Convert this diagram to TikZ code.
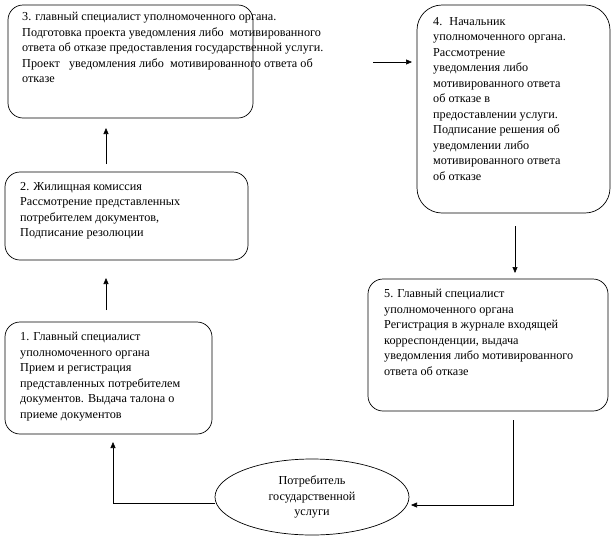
\documentclass[tikz,border=0pt]{standalone}
\usepackage{fontspec}
\setmainfont{Liberation Serif}
\usetikzlibrary{shapes.geometric,arrows.meta}
\begin{document}
\begin{tikzpicture}[x=1pt,y=-1pt,
 box/.style={draw,line width=0.7pt},
 txt/.style={anchor=north west,align=left,inner sep=0pt,font=\fontsize{12.2}{15.5}\selectfont},
 arr/.style={-{Triangle[length=6pt,width=5pt]},line width=0.6pt}]
\useasboundingbox (0,0) rectangle (612,541);
\draw[box,rounded corners=15] (8,5) rectangle (253,118);
\node[txt] (t3) at (22,12) {3. главный специалист уполномоченного органа.\\Подготовка проекта уведомления либо \ мотивированного\\ответа об отказе предоставления государственной услуги.\\Проект \ \ уведомления либо \ мотивированного ответа об\\отказе};
\draw[box,rounded corners=25] (417,5) rectangle (610,213);
\node[txt] (t4) at (433,17) {4. \ Начальник\\уполномоченного органа.\\Рассмотрение\\уведомления либо\\мотивированного ответа\\об отказе в\\предоставлении услуги.\\Подписание решения об\\уведомлении либо\\мотивированного ответа\\об отказе};
\draw[box,rounded corners=15] (5,172) rectangle (248,260);
\node[txt] (t2) at (20,182) {2. Жилищная комиссия\\Рассмотрение представленных\\потребителем документов,\\ Подписание резолюции};
\draw[box,rounded corners=15] (5,322) rectangle (212,434);
\node[txt] (t1) at (20,332) {1. Главный специалист\\уполномоченного органа\\Прием и регистрация\\представленных потребителем\\документов. Выдача талона о\\приеме документов};
\draw[box,rounded corners=15] (368,279) rectangle (608,411);
\node[txt] (t5) at (384,289) {5. Главный специалист\\уполномоченного органа\\Регистрация в журнале входящей\\корреспонденции, выдача\\уведомления либо мотивированного\\ответа об отказе};
\node[draw,line width=0.7pt,ellipse,minimum width=194pt,minimum height=76pt,align=center,font=\fontsize{12.2}{15.5}\selectfont] (e) at (312,497) {Потребитель\\государственной\\услуги};
\coordinate (a1) at (106,310); \coordinate (a2) at (106,278);
\draw[arr] (a1) -- (a2);
\coordinate (b1) at (106,164); \coordinate (b2) at (106,128);
\draw[arr] (b1) -- (b2);
\coordinate (c1) at (373,62); \coordinate (c2) at (412,62);
\draw[arr] (c1) -- (c2);
\coordinate (d1) at (515,226); \coordinate (d2) at (515,273);
\draw[arr] (d1) -- (d2);
\coordinate (f1) at (513,420); \coordinate (f2) at (411,505);
\draw[arr] (f1) |- (f2);
\coordinate (g1) at (215,503); \coordinate (g2) at (113,442);
\draw[arr] (g1) -| (g2);
\end{tikzpicture}
\end{document}
